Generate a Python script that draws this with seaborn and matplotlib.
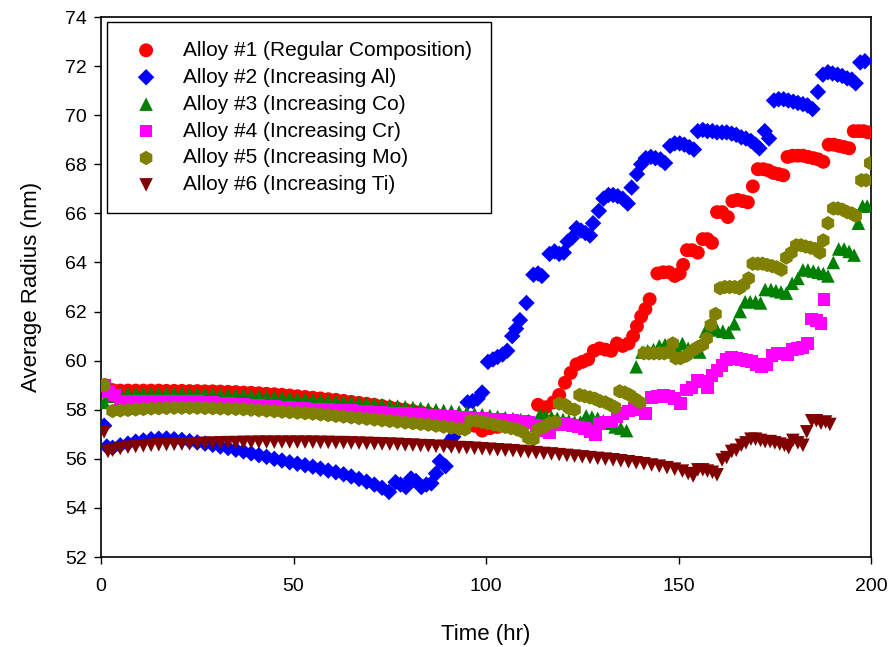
import matplotlib
matplotlib.use("Agg")
import matplotlib.pyplot as plt
import seaborn as sns
import pandas as pd

# ---------------------------------------------------------------------------
# Average precipitate radius (nm) versus ageing time (hr) for six alloys
# ---------------------------------------------------------------------------

alloy1_time = [1, 3, 5, 7, 9, 11, 13, 15, 17, 19, 21, 23, 25, 27, 29, 31, 33, 35, 37, 39,
               41, 43, 45, 47, 49, 51, 53, 55, 57, 59, 61, 63, 65, 67, 69, 71, 73, 75, 77, 79,
               81, 83, 85, 87, 89, 91, 93, 95, 97, 99, 101, 103, 105, 107, 109, 111,
               113.5, 115.5, 117.5, 119, 120.5, 122, 123.5, 125, 126.5, 128, 129.5, 131, 132.5,
               134, 135.5, 137, 138.2, 139.2, 140.3, 141.4, 142.5,
               144.5, 146, 147.5, 149, 150.3, 151.2, 152.2, 153.5, 155, 156.3, 157.5, 158.7,
               160, 161.3, 162.8, 164, 165.3, 166.7, 168, 169.3, 170.6, 172, 173.3, 174.6, 176, 177.2,
               178.3, 179.6, 181, 182.3, 183.6, 185, 186.3, 187.6,
               189, 190.3, 191.6, 193, 194.3, 195.5, 196.8, 198, 199.2]
alloy1_radius = [59.0, 58.8, 58.78, 58.78, 58.78, 58.78, 58.78, 58.78, 58.77, 58.77, 58.77, 58.76,
                 58.76, 58.75, 58.75, 58.74, 58.73, 58.72, 58.7, 58.69, 58.67, 58.65, 58.63, 58.61,
                 58.58, 58.55, 58.52, 58.49, 58.46, 58.43, 58.4, 58.36, 58.32, 58.28, 58.24, 58.2,
                 58.15, 58.1, 58.05, 58.0, 57.95, 57.9, 57.85, 57.8, 57.74, 57.68, 57.6, 57.5,
                 57.35, 57.15, 57.25, 57.3, 57.35, 57.4, 57.45, 57.5,
                 58.2, 58.1, 58.3, 58.6, 59.1, 59.5, 59.85, 59.95, 60.05, 60.4, 60.5, 60.45, 60.4,
                 60.7, 60.6, 60.7, 61.0, 61.4, 61.8, 62.1, 62.5,
                 63.55, 63.6, 63.6, 63.45, 63.55, 63.9, 64.5, 64.5, 64.4, 64.95, 64.95, 64.8,
                 66.05, 66.05, 65.85, 66.5, 66.55, 66.5, 66.45, 67.1, 67.8, 67.8, 67.75, 67.65, 67.6, 67.55,
                 68.3, 68.35, 68.35, 68.35, 68.3, 68.25, 68.2, 68.1,
                 68.8, 68.8, 68.75, 68.7, 68.65, 69.35, 69.35, 69.35, 69.3]

alloy2_time = [0.8, 1.5, 3, 5, 7, 9, 11, 13, 15, 17, 19, 21, 23, 25, 27, 29, 31, 33, 35, 37, 39,
               41, 43, 45, 47, 49, 51, 53, 55, 57, 59, 61, 63, 65, 67, 69, 71, 73, 74.8,
               76.5, 77.8, 79.2, 80.5, 81.8, 83.2, 84.5, 85.8, 87, 88, 89.5, 90.5, 91.5,
               95.2, 96.5, 97.8, 99, 100.5, 101.8, 103, 104.3, 105.5, 106.8, 107.8, 108.8, 110.5,
               112.3, 113.5, 114.5, 116.5, 117.8, 119, 120.2, 121.2, 122.3, 123.5, 124.7, 125.8,
               127, 127.8, 129.3, 130.5, 131.8, 133, 134.2, 135.5, 136.8, 137.8, 139.2, 140.3,
               141.5, 142.8, 144, 145.3, 146.5, 147.8, 149, 150.3, 151.5, 152.8, 154, 155, 156.3,
               157.5, 158.8, 160, 161.3, 162.5, 163.8, 165, 166.3, 167.5, 168.8, 170, 171, 172.4,
               173.5, 174.8, 176, 177.3, 178.5, 179.8, 181, 182.3, 183.5, 184.8, 186.2, 187.5,
               188.8, 190, 191.3, 192.5, 193.8, 195, 196, 197.2, 198.4]
alloy2_radius = [57.35, 56.5, 56.45, 56.55, 56.62, 56.7, 56.75, 56.8, 56.82, 56.83, 56.8, 56.77,
                 56.72, 56.67, 56.62, 56.57, 56.5, 56.44, 56.37, 56.3, 56.22, 56.15, 56.08, 56.0,
                 55.93, 55.86, 55.8, 55.74, 55.68, 55.6, 55.52, 55.45, 55.37, 55.28, 55.18, 55.07,
                 54.95, 54.82, 54.65,
                 55.05, 54.95, 54.85, 55.2, 55.1, 54.85, 54.95, 55.0, 55.4, 55.9, 55.7, 56.7, 56.9,
                 58.3, 58.35, 58.45, 58.7, 59.95, 60.05, 60.15, 60.25, 60.4, 61.0, 61.3, 61.65, 62.35,
                 63.5, 63.55, 63.45, 64.35, 64.45, 64.35, 64.4, 64.85, 65.0, 65.4, 65.3, 65.2,
                 65.1, 65.6, 66.1, 66.6, 66.75, 66.75, 66.7, 66.6, 66.4, 67.05, 67.6, 68.0,
                 68.25, 68.3, 68.25, 68.2, 68.05, 68.75, 68.85, 68.85, 68.8, 68.7, 68.6, 69.35, 69.4,
                 69.35, 69.35, 69.3, 69.3, 69.3, 69.25, 69.2, 69.1, 69.05, 68.95, 68.8, 68.65, 69.35,
                 69.05, 70.6, 70.65, 70.65, 70.6, 70.55, 70.5, 70.45, 70.4, 70.25, 70.95, 71.65,
                 71.75, 71.7, 71.65, 71.6, 71.5, 71.45, 71.3, 72.15, 72.2]

alloy3_time = [0.8, 2, 3.5, 5, 7, 9, 11, 13, 15, 17, 19, 21, 23, 25, 27, 29, 31, 33, 35, 37, 39,
               41, 43, 45, 47, 49, 51, 53, 55, 57, 59, 61, 63, 65, 67, 69, 71, 73, 75, 77, 79,
               81, 83, 85, 87, 89, 91, 93, 95, 97, 99, 101, 103, 105, 107, 109, 111,
               112.5, 114, 115.5, 117, 118.5, 120, 121.5, 123, 124.5, 126, 127.5, 129, 130.5,
               132, 133.5, 135, 136.5, 139, 140.5, 142, 143.5, 145, 146.5, 148, 149.5, 151,
               152.5, 154, 155.5, 157, 158.5, 160, 161.5, 163, 164.5, 166, 167.3, 168.6, 170,
               171.3, 172.5, 174, 175.3, 176.6, 178, 179.5, 181, 182.3, 183.6, 185, 186.3,
               187.6, 188.8, 190.2, 191.6, 193, 194.3, 195.6, 196.7, 197.8, 199]
alloy3_radius = [58.3, 58.55, 58.65, 58.66, 58.66, 58.67, 58.67, 58.67, 58.67, 58.67, 58.67, 58.67,
                 58.66, 58.66, 58.65, 58.64, 58.63, 58.62, 58.61, 58.6, 58.58, 58.56, 58.54, 58.52,
                 58.5, 58.48, 58.45, 58.43, 58.41, 58.39, 58.37, 58.35, 58.33, 58.31, 58.29, 58.27,
                 58.24, 58.21, 58.18, 58.15, 58.12, 58.09, 58.06, 58.03, 58.0, 57.97, 57.94, 57.91,
                 57.88, 57.84, 57.8, 57.76, 57.72, 57.68, 57.64, 57.6, 57.56,
                 57.5, 57.8, 57.75, 57.7, 57.65, 57.6, 57.55, 57.5, 57.5, 57.75, 57.7, 57.65, 57.55,
                 57.45, 57.3, 57.25, 57.15, 59.75, 60.35, 60.4, 60.45, 60.6, 60.65, 60.6, 60.55, 60.7,
                 60.5, 60.4, 60.35, 61.2, 61.3, 61.25, 61.2, 61.15, 61.5, 62.0, 62.4, 62.4, 62.4,
                 62.35, 62.9, 62.9, 62.85, 62.8, 62.75, 63.15, 63.35, 63.7, 63.7, 63.65, 63.6,
                 63.55, 63.45, 64.0, 64.55, 64.55, 64.45, 64.3, 65.6, 66.3, 66.3]

alloy4_time = [1, 2, 3.5, 5, 7, 9, 11, 13, 15, 17, 19, 21, 23, 25, 27, 29, 31, 33, 35, 37, 39,
               41, 43, 45, 47, 49, 51, 53, 55, 57, 59, 61, 63, 65, 67, 69, 71, 73, 75, 77, 79,
               81, 83, 85, 87, 89, 91, 93, 95, 97, 99, 101, 103, 105, 107, 109, 111,
               113, 115, 116.5, 118, 119.5, 121, 122.5, 124, 125.5, 127, 128.5, 129.5, 131, 132.5,
               134, 135.5, 137, 138.5, 140, 141.5, 143, 144.5, 146, 147.5, 149, 150.5, 152, 153.5,
               155, 156.5, 157.5, 158.7, 160, 161.3, 162.5, 163.8, 165, 166.3, 167.6, 169, 170.3,
               171.6, 173, 174.3, 175.6, 177, 178.3, 179.6, 181, 182.3, 183.5, 184.6, 185.8, 187,
               187.8]
alloy4_radius = [59.0, 58.75, 58.6, 58.32, 58.33, 58.34, 58.35, 58.35, 58.35, 58.35, 58.35, 58.34,
                 58.33, 58.32, 58.3, 58.29, 58.27, 58.25, 58.23, 58.21, 58.19, 58.17, 58.15, 58.13,
                 58.11, 58.09, 58.07, 58.05, 58.03, 58.01, 58.0, 57.99, 57.97, 57.96, 57.94, 57.92,
                 57.9, 57.88, 57.86, 57.85, 57.84, 57.82, 57.8, 57.78, 57.76, 57.74, 57.72, 57.7,
                 57.68, 57.66, 57.64, 57.62, 57.6, 57.58, 57.55, 57.52, 57.48,
                 57.35, 57.15, 57.05, 57.4, 57.45, 57.4, 57.35, 57.3, 57.25, 57.1, 57.0, 57.45, 57.5,
                 57.5, 57.7, 57.85, 57.95, 58.05, 58.0, 57.85, 58.5, 58.55, 58.6, 58.55, 58.45, 58.25,
                 58.8, 58.9, 59.2, 59.15, 58.9, 59.4, 59.6, 59.8, 60.05, 60.15, 60.1, 60.05, 60.0,
                 59.95, 59.85, 59.75, 59.85, 60.2, 60.3, 60.3, 60.25, 60.45, 60.5, 60.55, 60.7,
                 61.7, 61.65, 61.5, 62.5]

alloy5_time = [0.8, 3, 5, 7, 9, 11, 13, 15, 17, 19, 21, 23, 25, 27, 29, 31, 33, 35, 37, 39,
               41, 43, 45, 47, 49, 51, 53, 55, 57, 59, 61, 63, 65, 67, 69, 71, 73, 75, 77, 79,
               81, 83, 85, 87, 89, 91, 93, 94.5, 96, 97.5, 99, 100.5, 102, 103.5, 105, 106.5, 108,
               109.5, 111, 112.3, 113.5, 115, 116.5, 118, 119, 120.5, 121.7, 123, 124.3, 125.6,
               127, 128.3, 129.6, 131, 132.3, 133.5, 134.7, 136, 137.3, 138.6, 140, 141, 142.3,
               143.6, 145, 146.3, 147.6, 148.5, 149.3, 150.5, 152, 153.5, 155, 156.3, 157.3, 158.4,
               159.6, 160.8, 162, 163.3, 164.6, 165.8, 167, 168.2, 169.3, 170.6, 171.8, 173, 174.3,
               175.5, 176.7, 178, 179.3, 180.6, 181.8, 183, 184.3, 185.5, 186.7, 187.6, 188.8,
               190.2, 191.4, 192.6, 193.8, 195, 196, 197.5, 198.7, 199.8]
alloy5_radius = [59.0, 57.95, 57.97, 57.99, 58.01, 58.03, 58.05, 58.06, 58.07, 58.08, 58.08, 58.08,
                 58.08, 58.07, 58.06, 58.05, 58.04, 58.03, 58.02, 58.0, 57.98, 57.96, 57.94, 57.92,
                 57.9, 57.88, 57.86, 57.84, 57.81, 57.78, 57.75, 57.72, 57.69, 57.66, 57.63, 57.6,
                 57.57, 57.54, 57.51, 57.48, 57.45, 57.42, 57.39, 57.35, 57.31, 57.27, 57.22,
                 57.2, 57.55, 57.55, 57.5, 57.45, 57.4, 57.35, 57.3, 57.25, 57.2, 57.1, 56.85, 56.8,
                 57.2, 57.3, 57.45, 57.5, 58.25, 58.2, 58.05, 58.0, 58.6, 58.55, 58.5, 58.45, 58.35,
                 58.3, 58.2, 58.1, 58.75, 58.7, 58.6, 58.45, 58.3, 60.3, 60.3, 60.3, 60.3, 60.3,
                 60.35, 60.7, 60.1, 60.1, 60.2, 60.4, 60.55, 60.65, 60.9, 61.45, 61.9, 62.95, 63.0,
                 63.0, 63.0, 62.95, 63.1, 63.35, 63.95, 63.95, 63.95, 63.9, 63.85, 63.8, 63.7, 64.2,
                 64.4, 64.7, 64.7, 64.65, 64.6, 64.55, 64.4, 64.9, 65.6, 66.2, 66.2, 66.15, 66.05,
                 66.0, 65.9, 67.35, 67.35, 68.05]

alloy6_time = [0.8, 1.8, 3, 5, 7, 9, 11, 13, 15, 17, 19, 21, 23, 25, 27, 29, 31, 33, 35, 37, 39,
               41, 43, 45, 47, 49, 51, 53, 55, 57, 59, 61, 63, 65, 67, 69, 71, 73, 75, 77, 79,
               81, 83, 85, 87, 89, 91, 93, 95, 97, 99, 101, 103, 105, 107, 109, 111, 113, 115,
               117, 119, 121, 123, 125, 127, 129, 131, 133, 135, 137, 139, 141, 143, 145, 147,
               149, 151, 152.5, 153.8, 155, 156.3, 157.5, 158.8, 160, 161.3, 162.5, 163.8, 165,
               166.3, 167.5, 168.8, 170, 171.3, 172.5, 173.8, 175, 176.3, 177.5, 178.6, 179.7,
               181, 182.3, 183.3, 184.6, 185.8, 187, 188.2, 189.3]
alloy6_radius = [57.1, 56.3, 56.35, 56.42, 56.47, 56.5, 56.53, 56.55, 56.57, 56.58, 56.59, 56.6,
                 56.61, 56.62, 56.63, 56.64, 56.65, 56.66, 56.66, 56.67, 56.67, 56.68, 56.68, 56.68,
                 56.68, 56.68, 56.68, 56.68, 56.68, 56.67, 56.67, 56.66, 56.66, 56.65, 56.64, 56.63,
                 56.62, 56.61, 56.6, 56.59, 56.57, 56.56, 56.54, 56.53, 56.51, 56.5, 56.48, 56.46,
                 56.45, 56.43, 56.41, 56.39, 56.37, 56.35, 56.33, 56.3, 56.28, 56.25, 56.22, 56.2,
                 56.17, 56.14, 56.11, 56.08, 56.05, 56.02, 55.99, 55.96, 55.92, 55.88, 55.84, 55.8,
                 55.75, 55.7, 55.64, 55.58, 55.5, 55.4, 55.3, 55.55, 55.55, 55.5, 55.45, 55.35,
                 55.95, 56.05, 56.3, 56.35, 56.55, 56.65, 56.8, 56.8, 56.75, 56.7, 56.7, 56.65,
                 56.6, 56.55, 56.45, 56.75, 56.65, 56.55, 57.1, 57.55, 57.55, 57.45, 57.5, 57.4]

alloy_labels = ["Alloy #1 (Regular Composition)", "Alloy #2 (Increasing Al)",
                "Alloy #3 (Increasing Co)", "Alloy #4 (Increasing Cr)",
                "Alloy #5 (Increasing Mo)", "Alloy #6 (Increasing Ti)"]

x_ticks = [0, 50, 100, 150, 200]
y_ticks = [52, 54, 56, 58, 60, 62, 64, 66, 68, 70, 72, 74]

# ---------------------------------------------------------------------------
sns.set_style("ticks")
plt.rcParams["font.family"] = ["Liberation Sans", "DejaVu Sans"]
plt.rcParams["text.color"] = "black"
plt.rcParams["axes.labelcolor"] = "black"
plt.rcParams["xtick.color"] = "black"
plt.rcParams["ytick.color"] = "black"

fig, ax = plt.subplots(figsize=(8.9, 6.47), dpi=100)
fig.subplots_adjust(left=0.1135, right=0.9787, top=0.9737, bottom=0.1391)

series = [
    (alloy1_time, alloy1_radius, "#ff0000", "o", 100),
    (alloy2_time, alloy2_radius, "#0000ff", "D", 70),
    (alloy3_time, alloy3_radius, "#008000", "^", 95),
    (alloy4_time, alloy4_radius, "#ff00ff", "s", 85),
    (alloy5_time, alloy5_radius, "#808000", "h", 108),
    (alloy6_time, alloy6_radius, "#800000", "v", 95),
]

for i, ((t, r, color, marker, size), label) in enumerate(zip(series, alloy_labels)):
    frame = pd.DataFrame({"Time (hr)": t, "Average Radius (nm)": r})
    sns.scatterplot(data=frame, x="Time (hr)", y="Average Radius (nm)", ax=ax,
                    color=color, marker=marker, s=size, linewidth=0,
                    edgecolor="none", label=label, zorder=3 + i)

ax.set_xlim(0, 200)
ax.set_ylim(52, 74)
ax.set_xticks(x_ticks)
ax.set_yticks(y_ticks)
ax.set_xlabel("Time (hr)", fontsize=16, labelpad=21, color="black")
ax.set_ylabel("Average Radius (nm)", fontsize=16, labelpad=17, color="black")
ax.tick_params(direction="out", length=5, width=1.0, labelsize=14, pad=5,
               top=False, right=False, colors="black", labelcolor="black")
ax.tick_params(axis="x", pad=10)
for side in ["left", "right", "top", "bottom"]:
    ax.spines[side].set_visible(True)
    ax.spines[side].set_color("black")
    ax.spines[side].set_linewidth(1.2)

leg = ax.legend(loc="upper left", bbox_to_anchor=(0.0078, 0.9907), borderaxespad=0,
                fontsize=15, frameon=True, fancybox=False, framealpha=1,
                edgecolor="black", borderpad=0.9, labelspacing=0.38,
                handlelength=1.95, handletextpad=0.8, scatterpoints=1)
leg.get_frame().set_linewidth(1.0)
for text in leg.get_texts():
    text.set_color("black")

fig.savefig("out.png", dpi=100)
